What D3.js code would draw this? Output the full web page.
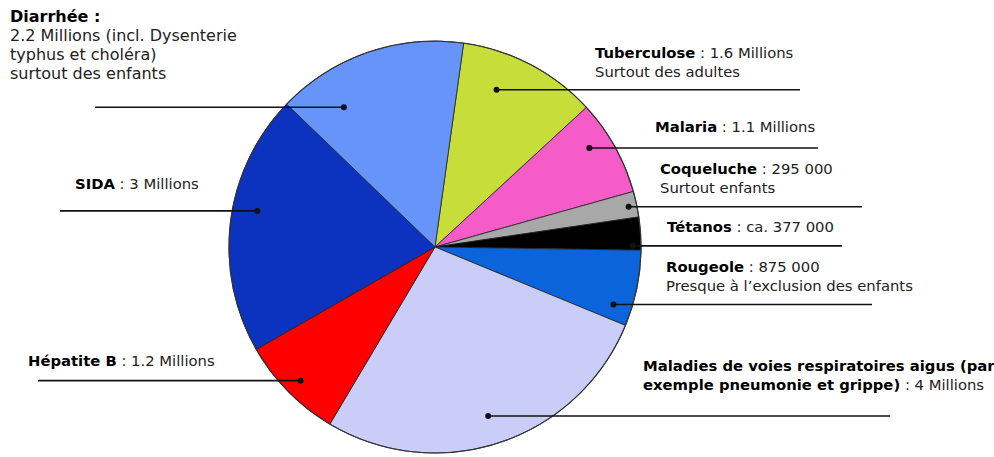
<!DOCTYPE html>
<html><head><meta charset="utf-8">
<script src="https://cdn.jsdelivr.net/npm/d3@7"></script>
<style>
html,body{margin:0;padding:0;background:#fff;}
svg{display:block;}
text{font-family:"DejaVu Sans",Verdana,sans-serif;font-size:14.8px;fill:#222;}
text.big{font-size:16px;}
.b{font-weight:bold;fill:#000;}
</style></head>
<body>
<svg id="c" width="994" height="457"></svg>
<script>
// Data (millions of deaths per year), clockwise from top
const categories = ["Tuberculose","Malaria","Coqueluche","Tétanos","Rougeole",
  "Maladies de voies respiratoires aigus","Hépatite B","SIDA","Diarrhée"];
const values = [1.6, 1.1, 0.295, 0.377, 0.875, 4, 1.2, 3, 2.2];
const colors = ["#c6dd3a","#f55cc8","#a8a8a8","#000000","#0b64da","#c9cdf8","#ff0000","#0c33c0","#6694f8"];
// Label texts: [bold part, regular part] per line
const labelLines = [
  [["Tuberculose"," : 1.6 Millions"],["","Surtout des adultes"]],
  [["Malaria"," : 1.1 Millions"]],
  [["Coqueluche"," : 295 000"],["","Surtout enfants"]],
  [["Tétanos"," : ca. 377 000"]],
  [["Rougeole"," : 875 000"],["","Presque à l\u2019exclusion des enfants"]],
  [["Maladies de voies respiratoires aigus (par",""],["exemple pneumonie et grippe)"," : 4 Millions"]],
  [["Hépatite B"," : 1.2 Millions"]],
  [["SIDA"," : 3 Millions"]],
  [["Diarrhée :",""],["","2.2 Millions (incl. Dysenterie"],["","typhus et choléra)"],["","surtout des enfants"]]
];
// Annotation layout (not data): dot position inside slice, leader end x, label anchor
const layout = [
  {af:0.34, rf:0.82, endX:800, lx:595, ly:58},
  {af:0.37, rf:0.89, endX:818, lx:655, ly:132},
  {af:0.54, rf:0.96, endX:862, lx:660, ly:174},
  {af:0.87, rf:0.96, endX:842, lx:667, ly:232},
  {af:0.79, rf:0.91, endX:872, lx:666, ly:272},
  {af:0.51, rf:0.86, endX:890, lx:643, ly:371},
  {af:0.49, rf:0.92, endX:38,  lx:28,  ly:366},
  {af:0.56, rf:0.88, endX:60,  lx:75,  ly:189},
  {af:0.24, rf:0.81, endX:95,  lx:10,  ly:22, big:true}
];

const svg = d3.select("#c");
const cx = 435, cy = 247, R = 206;
const start = 8 * Math.PI / 180;
const pie = d3.pie().sort(null).value(d => d).startAngle(start).endAngle(start + 2*Math.PI);
const arcs = pie(values);
const arc = d3.arc().innerRadius(0).outerRadius(R);
const g = svg.append("g").attr("transform", `translate(${cx},${cy})`);
g.selectAll("path").data(arcs).join("path")
  .attr("d", arc).attr("fill", (d,i) => colors[i])
  .attr("stroke", "#222").attr("stroke-width", 0.8).attr("stroke-linejoin","round");
g.append("circle").attr("r", R).attr("fill","none").attr("stroke","#333").attr("stroke-width",1.2);

// leader lines and dots
arcs.forEach((d,i) => {
  const L = layout[i];
  const a = d.startAngle + L.af * (d.endAngle - d.startAngle);
  const r = L.rf * R;
  const x = cx + r * Math.sin(a), y = cy - r * Math.cos(a);
  svg.append("line").attr("x1", x).attr("y1", y).attr("x2", L.endX).attr("y2", y)
    .attr("stroke", "#111").attr("stroke-width", 1.6);
  svg.append("circle").attr("cx", x).attr("cy", y).attr("r", 3).attr("fill", "#111");
});

// labels
labelLines.forEach((lines,i) => {
  const L = layout[i];
  const t = svg.append("text").attr("x", L.lx).attr("y", L.ly).classed("big", !!L.big);
  lines.forEach((ln,j) => {
    const first = t.append("tspan").attr("x", L.lx).attr("dy", j===0 ? 0 : 19);
    if (ln[0]) { first.attr("class","b").text(ln[0]);
      if (ln[1]) t.append("tspan").text(ln[1]); }
    else first.text(ln[1]);
  });
});
</script>
</body></html>
